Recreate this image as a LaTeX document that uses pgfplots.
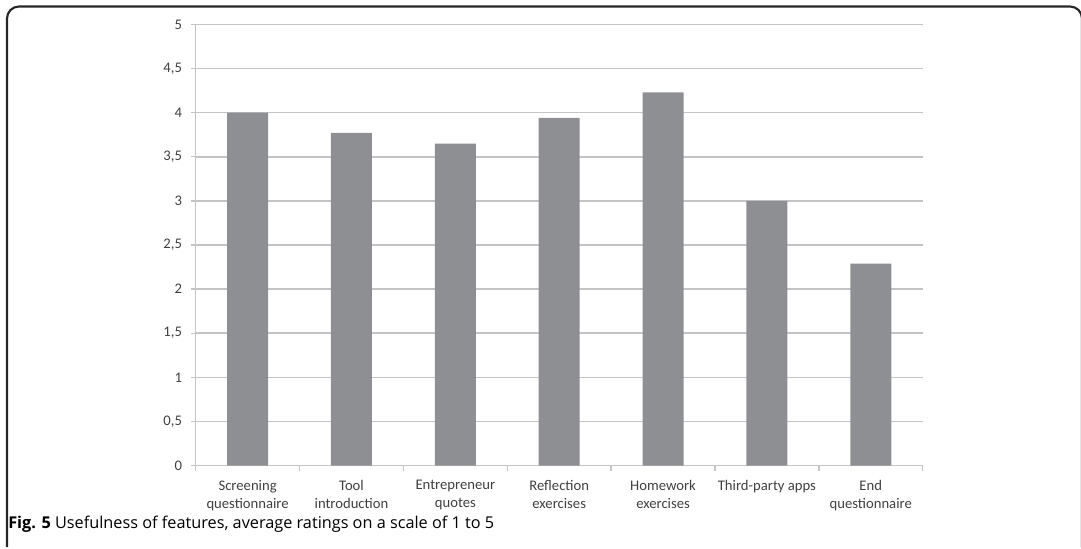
\documentclass[border=0pt]{standalone}
\usepackage{pgfplots}
\pgfplotsset{compat=1.18}
\usepackage{fontspec}
\setmainfont{Carlito}
\newfontfamily\capfont{Open Sans}
\definecolor{barc}{HTML}{8E8F93}
\definecolor{gridc}{HTML}{C4C4C4}
\definecolor{txtc}{HTML}{404040}
\begin{document}
\begin{tikzpicture}
\def\px{0.75pt}
\path[use as bounding box] (0,0) rectangle (1081*\px,-549*\px);
\draw[line width=1.6pt, color=black!85, rounded corners=9pt] (7*\px,-547*\px) -- (7*\px,-6.5*\px) -- (1082*\px,-6.5*\px) -- (1082*\px,-547*\px);
\begin{axis}[
  at={(195.7*\px,-465.5*\px)}, anchor=south west,
  scale only axis,
  width=727*\px, height=441*\px,
  xmin=-0.5, xmax=6.5, ymin=0, ymax=5,
  ybar, bar width=41*\px,
  xtick={0,...,6},
  xticklabels={Screening\\questionnaire, Tool\\introduction, Entrepreneur\\quotes, Reflection\\exercises, Homework\\exercises, Third-party apps, End\\questionnaire},
  minor xtick={-0.5,0.5,...,6.5},
  major x tick style={draw=none},
  minor x tick style={draw=gridc, line width=1pt},
  ytick={0,0.5,...,5},
  y tick style={draw=gridc, line width=1pt},
  tick align=outside,
  major tick length=5*\px, minor tick length=5*\px,
  ymajorgrids,
  grid style={draw=gridc, line width=1.1pt},
  axis x line*=bottom, axis y line*=left,
  axis line style={-, draw=gridc, line width=1.1pt},
  /pgf/number format/assume math mode=true,
  /pgf/number format/use comma,
  /pgf/number format/fixed,
  yticklabel style={font=\fontsize{11}{13}\selectfont, color=txtc, xshift=-3pt},
  xticklabel style={font=\fontsize{11}{13.5}\selectfont, color=txtc, align=center, anchor=north, yshift=-4pt},
]
\addplot[fill=barc, draw=none] coordinates {(0,4.0) (1,3.77) (2,3.65) (3,3.94) (4,4.23) (5,3.0) (6,2.29)};
\end{axis}
\node[anchor=base west, inner sep=0pt, font=\capfont\fontsize{12.2}{14}\selectfont] at (8*\px,-528*\px) {\textbf{Fig. 5} Usefulness of features, average ratings on a scale of 1 to 5};
\end{tikzpicture}
\end{document}
